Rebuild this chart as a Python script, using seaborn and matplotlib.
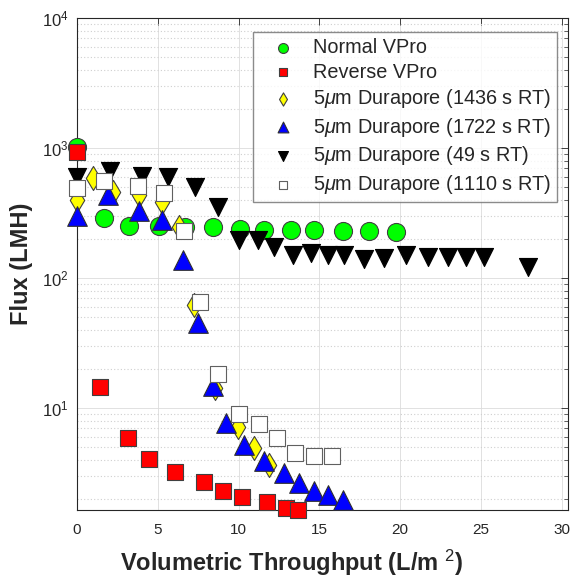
import numpy as np
import pandas as pd
import matplotlib
matplotlib.use("Agg")
import matplotlib.pyplot as plt
import seaborn as sns

# ---------------- data ----------------
normal_x = [0, 1.68, 3.23, 5.09, 6.71, 8.39, 10.12, 11.55, 13.23, 14.66, 16.46, 18.07, 19.75]
normal_y = [1019, 289, 251, 251, 247, 247, 238, 234, 234, 234, 230, 230, 226]

reverse_x = [0, 1.43, 3.17, 4.47, 6.09, 7.89, 9.07, 10.19, 11.74, 12.92, 13.66]
reverse_y = [931, 14.5, 5.87, 4.06, 3.22, 2.70, 2.30, 2.07, 1.89, 1.70, 1.64]

d1436_x = [0, 0.99, 2.24, 3.85, 5.28, 6.34, 7.27, 8.57, 9.94, 10.93, 11.86]
d1436_y = [398, 587, 459, 435, 384, 247, 62, 14.3, 7.14, 4.92, 3.64]

d1722_x = [0, 1.93, 3.85, 5.28, 6.58, 7.52, 8.45, 9.25, 10.37, 11.55, 12.8, 13.73, 14.66, 15.53, 16.46]
d1722_y = [300, 435, 327, 279, 137, 45.1, 14.8, 7.67, 5.19, 3.91, 3.16, 2.65, 2.30, 2.14, 1.96]

d49_x = [0, 2.05, 4.04, 5.65, 7.33, 8.7, 10.0, 11.18, 12.17, 13.35, 14.47, 15.53, 16.52,
         17.76, 19.0, 20.37, 21.74, 22.98, 24.1, 25.2, 27.9]
d49_y = [598, 665, 609, 598, 501, 352, 196, 196, 173, 150, 156, 150, 150,
         140, 142, 150, 145, 145, 145, 145, 122]

d1110_x = [0, 1.68, 3.79, 5.4, 6.65, 7.64, 8.76, 10.0, 11.24, 12.36, 13.48, 14.66, 15.78]
d1110_y = [492, 557, 510, 451, 230, 65.3, 18.3, 9.0, 7.53, 5.87, 4.51, 4.27, 4.27]

labels = ["Normal VPro", "Reverse VPro",
          "5$\\mu$m Durapore (1436 s RT)", "5$\\mu$m Durapore (1722 s RT)",
          "5$\\mu$m Durapore (49 s RT)", "5$\\mu$m Durapore (1110 s RT)"]
xs = [normal_x, reverse_x, d1436_x, d1722_x, d49_x, d1110_x]
ys = [normal_y, reverse_y, d1436_y, d1722_y, d49_y, d1110_y]

x_ticks = [0, 5, 10, 15, 20, 25, 30]
y_ticks = [10, 100, 1000, 10000]

# ---------------- styles ----------------
markers = ["o", "s", "d", "^", "v", "s"]
faces = ["#00ff00", "#ff0000", "#ffff00", "#0000ff", "#000000", "#ffffff"]
edges = ["#404040", "#404040", "#404040", "#303030", "#000000", "#606060"]
sizes = [169, 117, 150, 200, 169, 117]

sns.set_theme(style="white")
plt.rcParams["font.family"] = ["Liberation Sans", "DejaVu Sans"]
plt.rcParams["mathtext.fontset"] = "custom"
plt.rcParams["mathtext.rm"] = "Liberation Sans"
plt.rcParams["mathtext.it"] = "Liberation Sans:italic"
plt.rcParams["mathtext.bf"] = "Liberation Sans:bold"

fig = plt.figure(figsize=(5.71, 5.80), dpi=100)
ax = fig.add_axes([77 / 571, 70 / 580, 491 / 571, 492 / 580])

for lab, x, y, m, fc, ec, s in zip(labels, xs, ys, markers, faces, edges, sizes):
    df = pd.DataFrame({"x": x, "flux": y})
    sns.scatterplot(data=df, x="x", y="flux", ax=ax, marker=m, s=s,
                    color=fc, edgecolor=ec, linewidth=0.8, label=lab,
                    clip_on=False, zorder=3)

ax.set_yscale("log")
ax.set_xlim(0, 30.4)
ax.set_ylim(1.64, 10000)
ax.set_xticks(x_ticks)
ax.set_xticklabels([str(t) for t in x_ticks])
ax.set_yticks(y_ticks)

dark = "#262626"
ax.tick_params(axis="both", which="both", direction="in", colors=dark,
               top=True, right=True)
ax.tick_params(axis="x", which="major", labelsize=11, pad=9)
ax.tick_params(axis="y", which="major", labelsize=12, pad=6)
ax.tick_params(axis="both", which="major", length=5, width=0.6)
ax.tick_params(axis="y", which="minor", length=3, width=0.5)
ax.tick_params(axis="x", which="minor", bottom=False, top=False)
for sp in ax.spines.values():
    sp.set_color(dark)
    sp.set_linewidth(0.8)

ax.grid(True, which="major", color="#dcdcdc", linestyle="-", linewidth=0.6, zorder=0)
ax.yaxis.grid(True, which="minor", color="#cfcfcf", linestyle=(0, (1, 2)), linewidth=0.8)
ax.set_axisbelow(True)

ax.set_xlabel("Volumetric Throughput (L/m $^{2}$)", fontsize=17, fontweight="bold", color=dark)
ax.set_ylabel("Flux (LMH)", fontsize=17, fontweight="bold", color=dark)
ax.xaxis.set_label_coords(0.436, -0.076)
ax.yaxis.set_label_coords(-0.09, 0.5)

leg = ax.legend(loc="upper right", bbox_to_anchor=(0.978, 0.9715), borderaxespad=0,
                fontsize=14.3, markerscale=0.55, frameon=True, fancybox=False,
                handletextpad=0.3, labelspacing=0.28, borderpad=0.3, handlelength=2.4)
leg.get_frame().set_edgecolor("#6e6e6e")
leg.get_frame().set_linewidth(1.0)
for t in leg.get_texts():
    t.set_color(dark)

fig.savefig("out.png", dpi=100)
